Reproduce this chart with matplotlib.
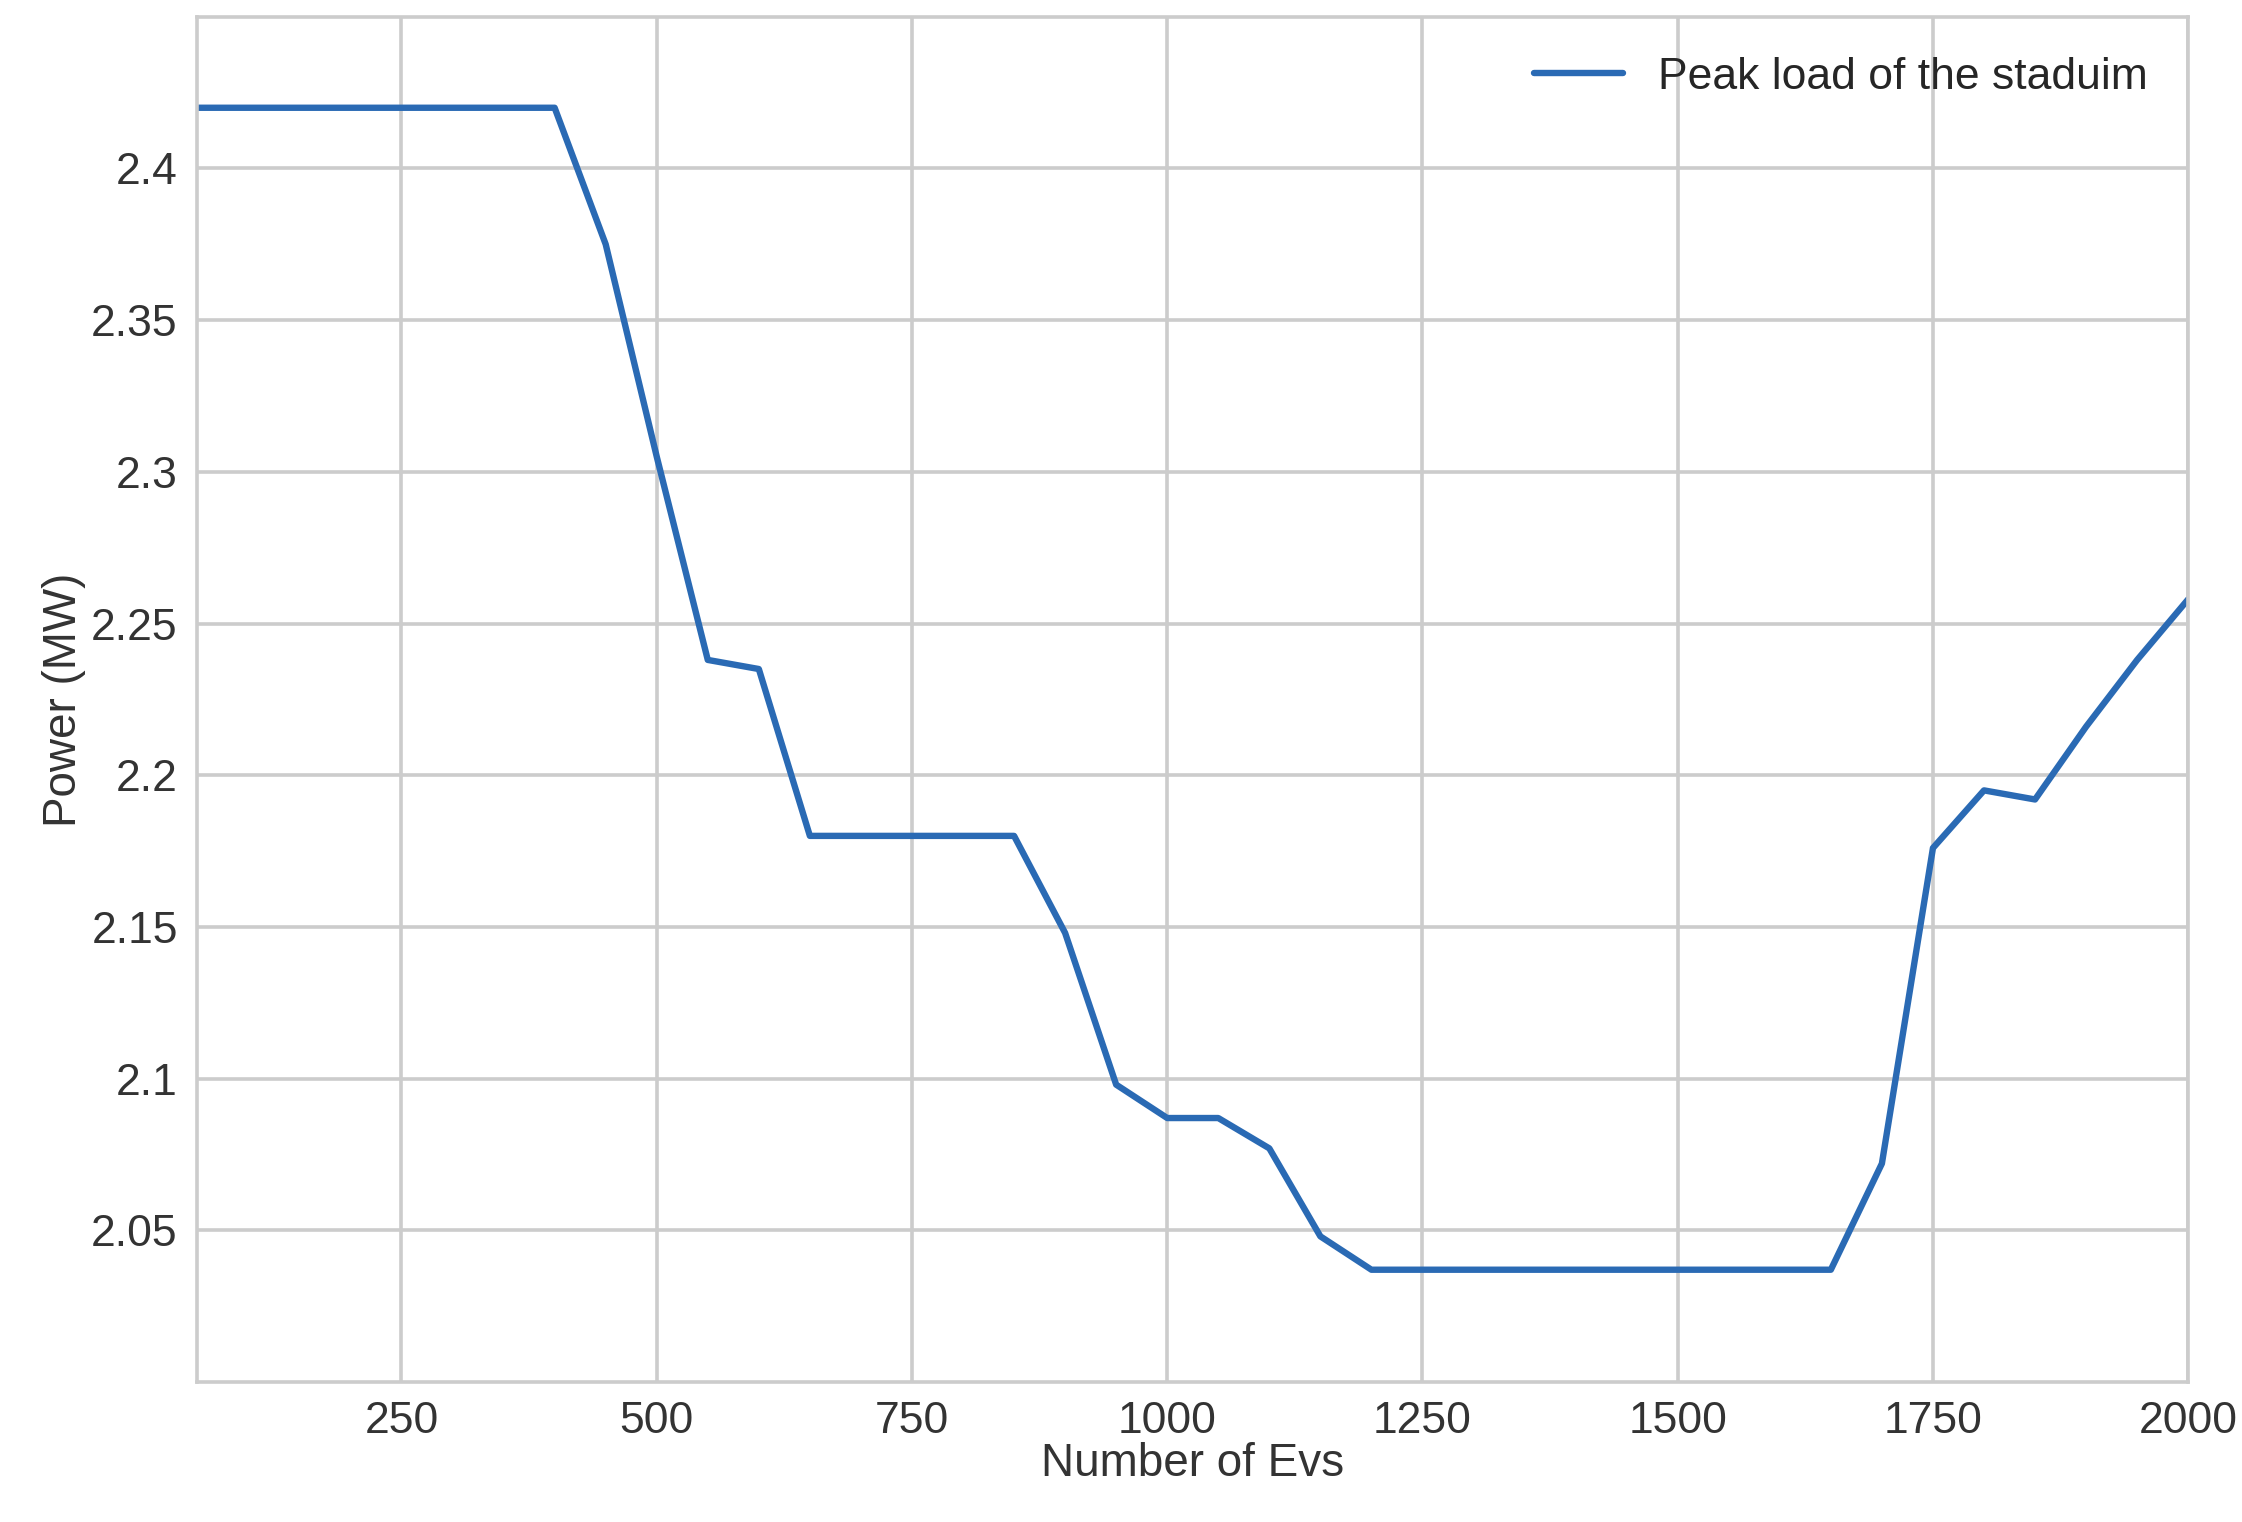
import matplotlib
matplotlib.use("Agg")
import matplotlib.pyplot as plt
import seaborn as sns

sns.set_style("whitegrid")
plt.rcParams['font.family'] = ['Arial', 'Liberation Sans', 'DejaVu Sans']

n_evs = list(range(50, 2001, 50))
peak_load = [2.42] * 8 + [
    2.375, 2.305, 2.238, 2.235, 2.180, 2.180, 2.180, 2.180, 2.180,
    2.148, 2.098, 2.087, 2.087, 2.077, 2.048,
    2.037, 2.037, 2.037, 2.037, 2.037, 2.037, 2.037, 2.037, 2.037, 2.037,
    2.072, 2.176, 2.195, 2.192, 2.216, 2.238, 2.258,
]
y_ticks = [2.05, 2.1, 2.15, 2.2, 2.25, 2.3, 2.35, 2.4]
x_ticks = [250, 500, 750, 1000, 1250, 1500, 1750, 2000]

fig = plt.figure(figsize=(11.21, 7.61), dpi=200)
ax = fig.add_axes([0.088, 0.092, 0.888, 0.897])
ax.plot(n_evs, peak_load, color="#2a6ab4", lw=2.3, label="Peak load of the staduim")
ax.set_xlim(50, 2000)
ax.set_ylim(2.0, 2.45)
ax.set_xticks(x_ticks)
ax.set_yticks(y_ticks)
ax.set_yticklabels([f"{v:g}" for v in y_ticks])
ax.tick_params(labelsize=16, colors="#333333")
ax.set_xlabel("Number of Evs", fontsize=16.5, color="#333333", labelpad=0)
ax.set_ylabel("Power (MW)", fontsize=16.5, color="#333333", labelpad=2)
ax.grid(True, color="#cccccc", lw=1.3)
for s in ax.spines.values():
    s.set_color("#cccccc")
    s.set_linewidth(1.3)
ax.legend(loc="upper right", fontsize=16, frameon=False)
fig.savefig("out.png", dpi=200)
